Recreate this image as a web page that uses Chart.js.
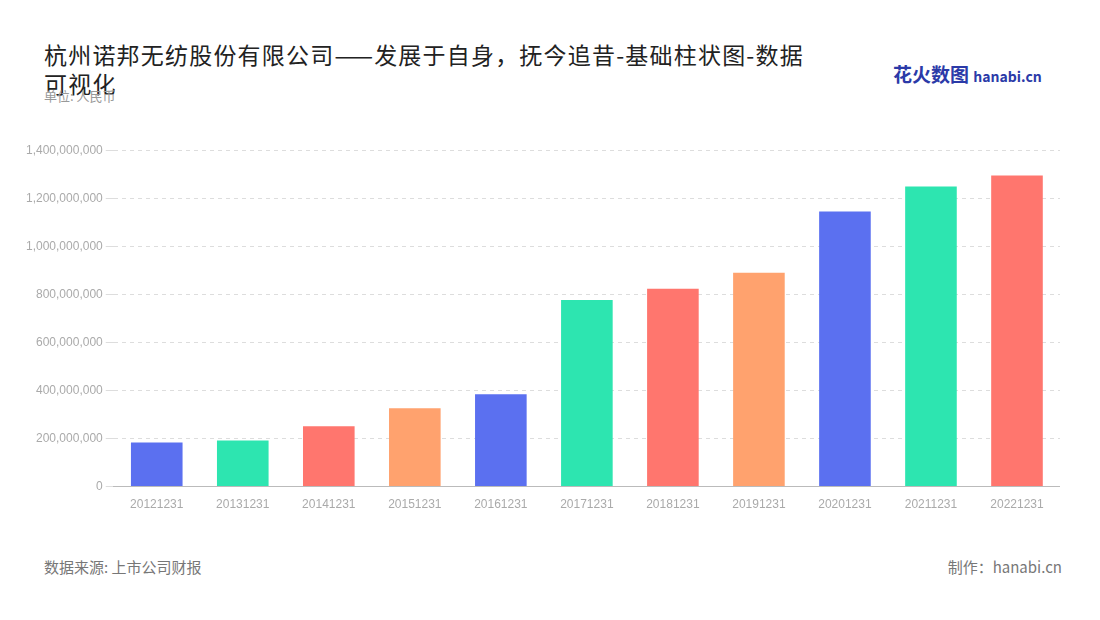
<!DOCTYPE html>
<html><head><meta charset="utf-8">
<script src="https://cdn.jsdelivr.net/npm/chart.js@4/dist/chart.umd.min.js"></script>
<style>
body{margin:0;width:1100px;height:620px;background:#fff;font-family:"Noto Sans CJK SC","Noto Sans",sans-serif;position:relative;overflow:hidden}
#title{position:absolute;left:44px;top:40px;font-size:23px;color:#222;line-height:29px;width:820px;letter-spacing:1.2px}
#unit{position:absolute;left:44px;top:86px;font-size:13px;color:#999}
#src{position:absolute;left:44px;top:556px;font-size:15px;color:#777}
#by{position:absolute;right:38px;top:556px;font-size:15px;color:#777}
#logo{position:absolute;left:893px;top:60px;font-size:19px;font-weight:bold;color:#2b3aa8}
#logo span{font-size:14px;color:#2b3aa8}
#wrap{position:absolute;left:0;top:140px;width:1060px;height:375px}
</style></head><body>
<div id="title">杭州诺邦无纺股份有限公司——发展于自身，抚今追昔-基础柱状图-数据<br>可视化</div>
<div id="unit">单位: 人民币</div>
<div id="logo">花火数图 <span>hanabi.cn</span></div>
<div id="wrap"><canvas id="c"></canvas></div>
<div id="src">数据来源: 上市公司财报</div>
<div id="by">制作：hanabi.cn</div>
<script>
const categories=["20121231","20131231","20141231","20151231","20161231","20171231","20181231","20191231","20201231","20211231","20221231"];
const values=[184000000,192000000,251000000,326000000,384000000,777000000,823000000,890000000,1145000000,1249000000,1295000000];
const palette=["#5b70f0","#2de5b0","#ff766e","#ffa26e"];
new Chart(document.getElementById('c'),{type:'bar',
data:{labels:categories,datasets:[{data:values,backgroundColor:categories.map((_,i)=>palette[i%4]),categoryPercentage:0.6,barPercentage:1}]},
options:{responsive:true,maintainAspectRatio:false,animation:false,
layout:{padding:{top:10,left:23,right:0}},
plugins:{legend:{display:false},tooltip:{enabled:false}},
scales:{x:{grid:{display:false},border:{color:'#bbb'},ticks:{color:'#aaa',font:{size:12}}},
y:{min:0,max:1400000000,ticks:{stepSize:200000000,color:'#aaa',font:{size:12},callback:v=>v.toLocaleString('en-US')},
grid:{color:'#ddd'},border:{display:false,dash:[4,4]}}}}});
</script></body></html>
